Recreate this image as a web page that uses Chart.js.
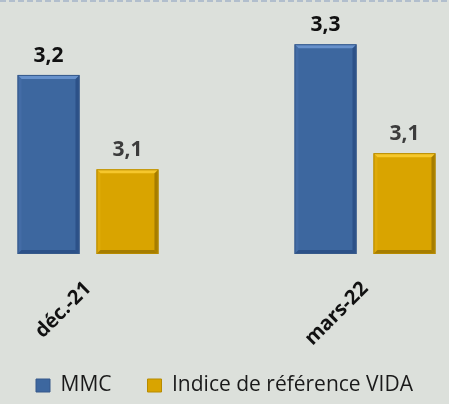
<!DOCTYPE html>
<html>
<head>
<meta charset="utf-8">
<script src="https://cdn.jsdelivr.net/npm/chart.js@4"></script>
<style>
  html, body { margin: 0; padding: 0; background: #dce0db; }
  #wrap { width: 449px; height: 404px; }
</style>
</head>
<body>
<div id="wrap"><canvas id="chart" width="449" height="404"></canvas></div>
<script>
const categories = ['déc.-21', 'mars-22'];
const seriesNames = ['MMC', 'Indice de référence VIDA'];
const mmcValues = [3.222, 3.26];
const vidaValues = [3.105, 3.125];
const yMin = 3.0;
const yMax = 3.3;

const palette = {
    MMC: { fill: '#3d679f', border: '#36598a', light: '#6791cb', side: '#436ca6', dark: '#2c5188', label: '#111111' },
    VIDA: { fill: '#d9a400', border: '#b78b00', light: '#f6c72c', side: '#dfaa08', dark: '#a67d00', label: '#3c3c3c' }
};

// background + dashed top rule
const backdrop = {
    id: 'backdrop',
    beforeDraw(chart) {
        const ctx = chart.ctx;
        ctx.save();
        ctx.fillStyle = '#dce0db';
        ctx.fillRect(0, 0, chart.width, chart.height);
        ctx.strokeStyle = '#a3b3c9';
        ctx.lineWidth = 1.5;
        ctx.setLineDash([6, 3]);
        ctx.beginPath();
        ctx.moveTo(0, 1);
        ctx.lineTo(chart.width, 1);
        ctx.stroke();
        ctx.restore();
    },
    // let the rotated tick labels run down into the legend band instead of being clipped
    afterLayout(chart) {
        chart.scales.x.bottom = chart.height;
    }
};

// bevel edges on the bars, then value labels
const bevelAndLabels = {
    id: 'bevelAndLabels',
    afterDatasetsDraw(chart) {
        const ctx = chart.ctx;
        const b = 4;
        chart.data.datasets.forEach((ds, i) => {
            const colors = i === 0 ? palette.MMC : palette.VIDA;
            chart.getDatasetMeta(i).data.forEach((bar, j) => {
                const L = bar.x - bar.width / 2, R = bar.x + bar.width / 2;
                const T = bar.y, B = bar.base;
                const poly = (pts, color) => {
                    ctx.beginPath();
                    ctx.moveTo(pts[0][0], pts[0][1]);
                    pts.slice(1).forEach(p => ctx.lineTo(p[0], p[1]));
                    ctx.closePath();
                    ctx.fillStyle = color;
                    ctx.fill();
                };
                ctx.save();
                poly([[L, T], [L + b, T + b], [L + b, B - b], [L, B]], colors.side);
                poly([[R, T], [R, B], [R - b, B - b], [R - b, T + b]], colors.dark);
                poly([[L, B], [R, B], [R - b, B - b], [L + b, B - b]], colors.dark);
                poly([[L, T], [R, T], [R - b, T + b], [L + b, T + b]], colors.light);
                ctx.strokeStyle = colors.border;
                ctx.lineWidth = 1;
                ctx.strokeRect(L + 0.5, T + 0.5, R - L - 1, B - T - 1);

                ctx.font = 'bold 21px "Open Sans", sans-serif';
                ctx.fillStyle = colors.label;
                ctx.textAlign = 'center';
                ctx.textBaseline = 'alphabetic';
                ctx.fillText(ds.data[j].toFixed(1).replace('.', ','), bar.x, T - 13);
                ctx.restore();
            });
        });
    }
};

const ctx = document.getElementById('chart').getContext('2d');
new Chart(ctx, {
    type: 'bar',
    data: {
        labels: categories,
        datasets: [
            {
                label: seriesNames[0],
                data: mmcValues,
                base: yMin,
                backgroundColor: palette.MMC.fill,
                borderColor: palette.MMC.border,
                borderWidth: 1,
                categoryPercentage: 0.57,
                barPercentage: 0.785,
                clip: false
            },
            {
                label: seriesNames[1],
                data: vidaValues,
                base: yMin,
                backgroundColor: palette.VIDA.fill,
                borderColor: palette.VIDA.border,
                borderWidth: 1,
                categoryPercentage: 0.57,
                barPercentage: 0.785,
                clip: false
            }
        ]
    },
    options: {
        responsive: false,
        animation: false,
        layout: { padding: { top: 12, bottom: -2, left: 0, right: 0 } },
        plugins: {
            tooltip: { enabled: false },
            legend: {
                position: 'bottom',
                labels: {
                    color: '#1a1a1a',
                    font: { family: "'Open Sans', sans-serif", size: 21, lineHeight: 1 },
                    boxWidth: 14,
                    boxHeight: 13,
                    padding: 36
                }
            }
        },
        scales: {
            x: {
                offset: false,
                grid: { display: false, drawTicks: false },
                border: { display: false },
                ticks: {
                    color: '#111111',
                    font: { family: "'Open Sans', sans-serif", size: 20, weight: 'bold' },
                    minRotation: 45,
                    maxRotation: 45,
                    padding: 23
                },
                afterFit: scale => { scale.height = 85; }
            },
            y: {
                position: 'left',
                min: yMin,
                max: yMax,
                grid: { display: false, drawTicks: false },
                border: { display: false },
                ticks: { display: false },
                afterFit: scale => { scale.width = 88; }
            },
            yRight: {
                position: 'right',
                min: yMin,
                max: yMax,
                grid: { display: false, drawTicks: false },
                border: { display: false },
                ticks: { display: false },
                afterFit: scale => { scale.width = 84; }
            }
        }
    },
    plugins: [backdrop, bevelAndLabels]
});
</script>
</body>
</html>
